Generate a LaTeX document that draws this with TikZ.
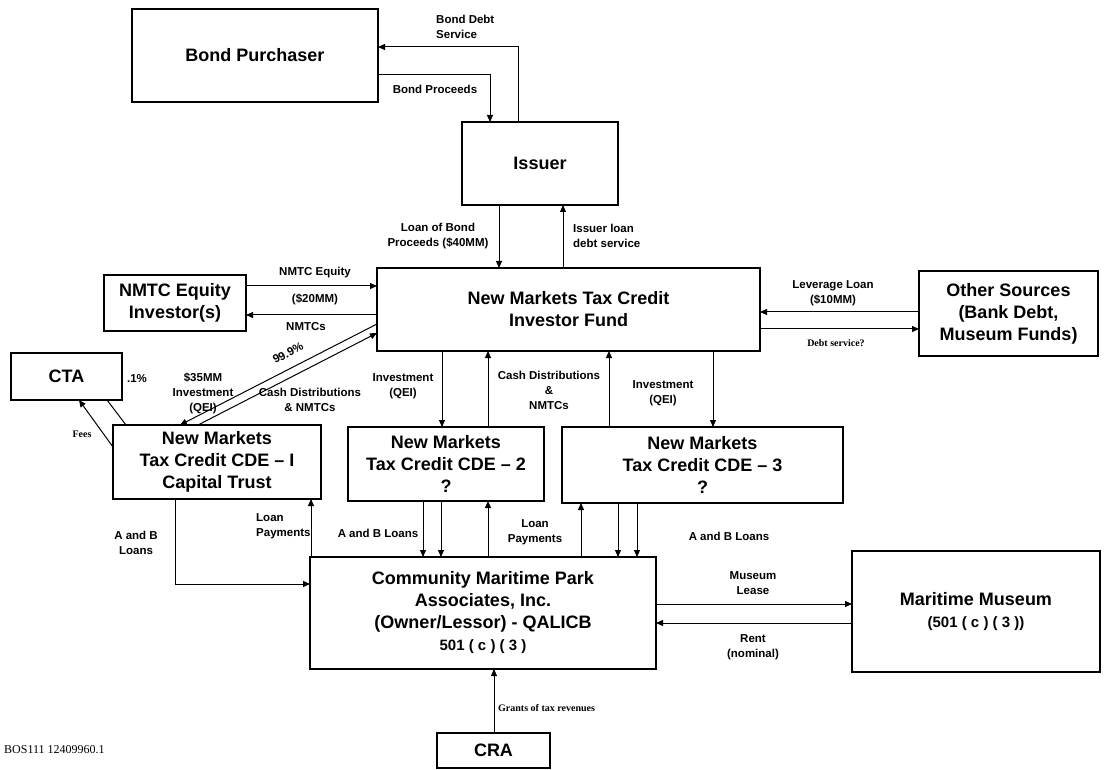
\documentclass[tikz,border=0pt]{standalone}
\usepackage{fontspec}
\setmainfont{Liberation Sans}
\newfontfamily\tnr{Liberation Serif}
\usetikzlibrary{arrows.meta}
\newcommand\boxfont{\fontsize{18}{22}\selectfont\bfseries}
\newcommand\subfont{\fontsize{15}{22}\selectfont\bfseries}
\newcommand\lblfont{\fontsize{11.5}{15}\selectfont\bfseries}
\newcommand\tinyfont{\tnr\fontsize{10}{12}\selectfont\bfseries}
\tikzset{
  box/.style={draw, line width=1.2pt, inner sep=0pt, outer sep=0pt, align=center, font=\boxfont},
  arr/.style={-{Triangle[length=7pt,width=6pt]}, line width=1pt},
  ln/.style={line width=1pt},
  lbl/.style={font=\lblfont, align=center, inner sep=0pt},
  tiny/.style={font=\tinyfont, inner sep=0pt}
}
\begin{document}
\begin{tikzpicture}[x=1pt,y=-1pt]
\fill[white] (0,0) rectangle (1104,770);
\useasboundingbox (0,0) rectangle (1104,770);

% boxes
\node[box, minimum width=246pt, minimum height=93pt] (bp) at (255,55.5) {Bond Purchaser};
\node[box, minimum width=156pt, minimum height=83pt] (iss) at (540,163.5) {Issuer};
\node[box, minimum width=383pt, minimum height=83pt] (fund) at (568.5,309.5) {New Markets Tax Credit\\Investor Fund};
\node[box, minimum width=142pt, minimum height=56pt] (eq) at (175,303) {NMTC Equity\\Investor(s)};
\node[box, minimum width=179pt, minimum height=85pt] (oth) at (1008.5,313.5) {Other Sources\\(Bank Debt,\\Museum Funds)};
\node[box, minimum width=111pt, minimum height=47pt] (cta) at (66.5,376.5) {CTA};
\node[box, minimum width=208pt, minimum height=74pt] (cde1) at (217,462) {New Markets\\Tax Credit CDE -- I\\Capital Trust};
\node[box, minimum width=196pt, minimum height=74pt] (cde2) at (446,464) {New Markets\\Tax Credit CDE -- 2\\?};
\node[box, minimum width=281pt, minimum height=76pt] (cde3) at (702.5,465) {New Markets\\Tax Credit CDE -- 3\\?};
\node[box, minimum width=346pt, minimum height=112pt] (cmp) at (483,613) {Community Maritime Park\\Associates, Inc.\\(Owner/Lessor) - QALICB\\{\subfont 501 ( c ) ( 3 )}};
\node[box, minimum width=248pt, minimum height=121pt] (mus) at (976,611.5) {Maritime Museum\\{\subfont (501 ( c ) ( 3 ))}};
\node[box, minimum width=113pt, minimum height=35pt] (cra) at (493.5,750.5) {CRA};

% bond connectors
\draw[arr] (iss.north -| 518,0) -- (518,47) -- (bp.east |- 0,47);
\draw[arr] (bp.east |- 0,75) -- (490,75) -- (490,0 |- iss.north);
\node[lbl, anchor=west, align=left] (l1) at (436,27) {Bond Debt\\Service};
\node[lbl] (l2) at (435,89) {Bond Proceeds};

% issuer - fund
\draw[arr] (iss.south -| 499,0) -- (fund.north -| 499,0);
\draw[arr] (fund.north -| 563,0) -- (iss.south -| 563,0);
\node[lbl] (l3) at (438,236) {Loan of Bond\\Proceeds (\$40MM)};
\node[lbl, anchor=west, align=left] (l4) at (573,236) {Issuer loan\\debt service};

% equity investor
\draw[arr] (eq.east |- 0,286) -- (fund.west |- 0,286);
\draw[arr] (fund.west |- 0,315) -- (eq.east |- 0,315);
\node[lbl] (l5) at (315,273) {NMTC Equity};
\node[lbl] (l6) at (315,299) {(\$20MM)};
\node[lbl] (l7) at (306,327) {NMTCs};

% other sources
\draw[arr] (oth.west |- 0,312) -- (fund.east |- 0,312);
\draw[arr] (fund.east |- 0,329) -- (oth.west |- 0,329);
\node[lbl] (l8) at (833,293) {Leverage Loan\\(\$10MM)};
\node[tiny] (l9) at (836,343) {Debt service?};

% diagonals fund - CDE1
\draw[arr] (fund.west |- 0,324) -- (cde1.north -| 180,0);
\draw[arr] (cde1.north -| 198,0) -- (fund.west |- 0,333);
\node[lbl, rotate=27] (l10) at (288,353) {99.9\%};
\node[lbl] (l11) at (203,393) {\$35MM\\Investment\\(QEI)};
\node[lbl] (l12) at (310,400) {Cash Distributions\\\& NMTCs};

% CTA
\draw[ln] (cta.south -| 107,0) -- (cde1.north -| 126,0);
\draw[arr] (cde1.west |- 0,447) -- (cta.south -| 79,0);
\node[lbl] (l13) at (137,379) {.1\%};
\node[tiny] (l14) at (82,434) {Fees};

% fund - CDE2 / CDE3
\draw[arr] (fund.south -| 442,0) -- (cde2.north -| 442,0);
\draw[arr] (cde2.north -| 488,0) -- (fund.south -| 488,0);
\draw[arr] (cde3.north -| 609,0) -- (fund.south -| 609,0);
\draw[arr] (fund.south -| 713,0) -- (cde3.north -| 713,0);
\node[lbl] (l15) at (403,386) {Investment\\(QEI)};
\node[lbl] (l16) at (549,390) {Cash Distributions\\\&\\NMTCs};
\node[lbl] (l17) at (663,393) {Investment\\(QEI)};

% CDEs - CMP
\draw[arr] (cde1.south -| 175,0) -- (175,584) -- (cmp.west |- 0,584);
\draw[arr] (cmp.north -| 311,0) -- (cde1.south -| 311,0);
\node[lbl] (l18) at (136,543) {A and B\\Loans};
\node[lbl, anchor=west, align=left] (l19) at (256,526) {Loan\\Payments};

\draw[arr] (cde2.south -| 423,0) -- (cmp.north -| 423,0);
\draw[arr] (cde2.south -| 441,0) -- (cmp.north -| 441,0);
\draw[arr] (cmp.north -| 488,0) -- (cde2.south -| 488,0);
\node[lbl] (l20) at (378,533) {A and B Loans};
\node[lbl] (l21) at (535,532) {Loan\\Payments};

\draw[arr] (cmp.north -| 581,0) -- (cde3.south -| 581,0);
\draw[arr] (cde3.south -| 618,0) -- (cmp.north -| 618,0);
\draw[arr] (cde3.south -| 637,0) -- (cmp.north -| 637,0);
\node[lbl] (l22) at (729,536) {A and B Loans};

% museum
\draw[arr] (cmp.east |- 0,604) -- (mus.west |- 0,604);
\draw[arr] (mus.west |- 0,623) -- (cmp.east |- 0,623);
\node[lbl] (l23) at (753,583) {Museum\\Lease};
\node[lbl] (l24) at (753,647) {Rent\\(nominal)};

% CRA
\draw[arr] (cra.north -| 494,0) -- (cmp.south -| 494,0);
\node[tiny, anchor=west] (l25) at (498,708) {Grants of tax revenues};

\node[anchor=west, inner sep=0pt, font=\tnr\fontsize{12}{14}\selectfont] (doc) at (4,750) {BOS111 12409960.1};
\end{tikzpicture}
\end{document}
